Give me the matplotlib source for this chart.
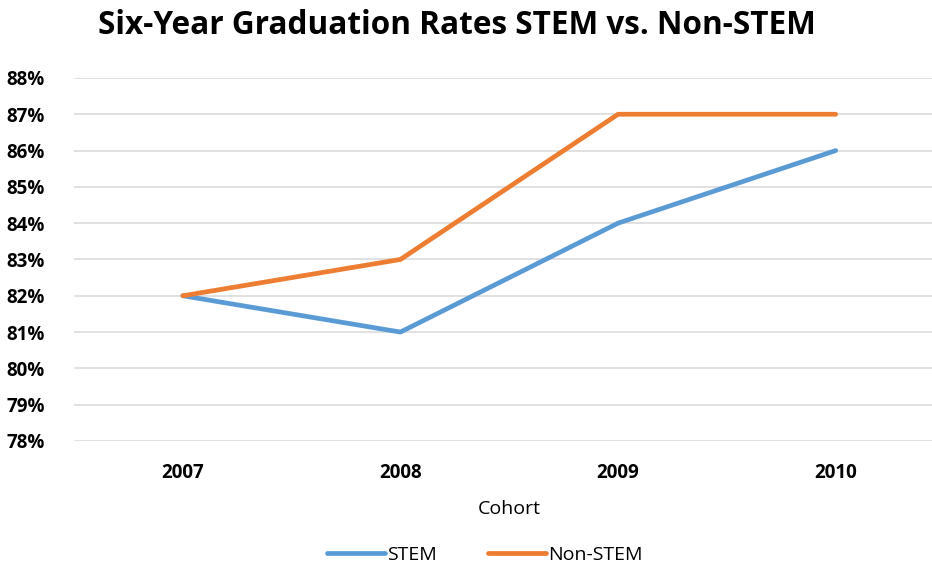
import matplotlib
matplotlib.use("Agg")
import matplotlib.pyplot as plt
from matplotlib.ticker import FuncFormatter

plt.rcParams['font.family'] = ['Open Sans', 'DejaVu Sans']

cohorts = ["2007", "2008", "2009", "2010"]
stem = [82, 81, 84, 86]
non_stem = [82, 83, 87, 87]

fig = plt.figure(figsize=(9.32, 5.69), dpi=100)
ax = fig.add_axes([0.0794, 0.225, 0.934, 0.638])

x = range(len(cohorts))
ax.plot(x, stem, color="#5B9BD5", lw=3.4, solid_capstyle="round", label="STEM")
ax.plot(x, non_stem, color="#ED7D31", lw=3.4, solid_capstyle="round", label="Non-STEM")

ax.set_xlim(-0.5, 3.5)
ax.set_ylim(78, 88)
ax.set_yticks(range(78, 89))
ax.yaxis.set_major_formatter(FuncFormatter(lambda v, p: f"{v:.0f}%"))
ax.set_xticks(list(x))
ax.set_xticklabels(cohorts)
ax.grid(axis="y", color="#D9D9D9", lw=1.1)
ax.set_axisbelow(True)
for s in ax.spines.values():
    s.set_visible(False)
ax.tick_params(length=0, labelsize=13.5)
for lab in ax.get_xticklabels() + ax.get_yticklabels():
    lab.set_fontweight("bold")
ax.tick_params(axis="x", pad=16)
ax.tick_params(axis="y", pad=21)

ax.set_xlabel("Cohort", fontsize=14, labelpad=12)
fig.text(0.49, 0.955, "Six-Year Graduation Rates STEM vs. Non-STEM",
         ha="center", va="center", fontsize=22.7, fontweight="bold")
fig.legend(loc="center", bbox_to_anchor=(0.52, 0.025), ncol=2, frameon=False,
           fontsize=14, handlelength=3.0, columnspacing=2.6, handletextpad=0.1)

fig.savefig("out.png", dpi=100)
